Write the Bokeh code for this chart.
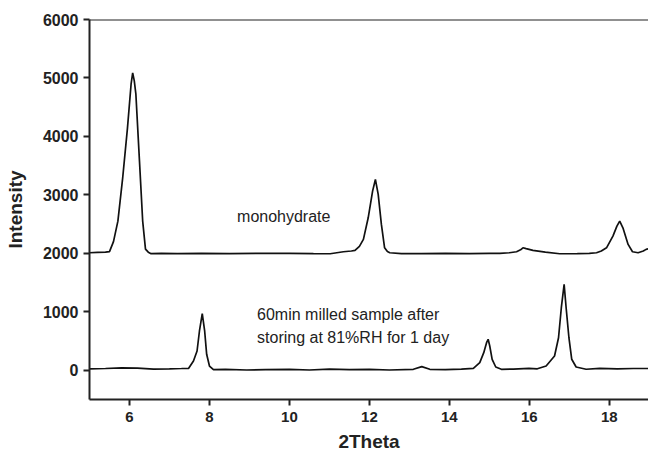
from bokeh.plotting import figure
from bokeh.models import Range1d, Span, Label, FixedTicker
from bokeh.embed import file_html
from bokeh.resources import INLINE

# Monohydrate pattern (offset by ~2000)
mono_x = [5.00, 5.20, 5.40, 5.50, 5.60, 5.71, 5.83, 5.95, 6.04, 6.08, 6.12, 6.16, 6.25, 6.33, 6.40, 6.47,
          6.54, 6.80, 7.20, 7.80, 8.50, 9.20, 10.0, 10.6, 11.02, 11.35, 11.55, 11.64, 11.75, 11.85, 11.97,
          12.08, 12.15, 12.22, 12.30, 12.38, 12.45, 12.51, 12.80, 13.3, 13.9, 14.5, 15.0, 15.26, 15.50,
          15.68, 15.78, 15.84, 15.92, 16.09, 16.40, 16.76, 17.20, 17.50, 17.68, 17.80, 17.93, 18.09, 18.19,
          18.26, 18.34, 18.47, 18.58, 18.72, 18.85, 18.92, 19.0]
mono_y = [2010, 2015, 2020, 2030, 2200, 2550, 3290, 4146, 4893, 5086, 4950, 4722, 3577, 2552, 2073, 2020,
          1995, 2000, 1995, 2000, 1995, 2000, 2000, 1995, 1993, 2027, 2040, 2051, 2120, 2239, 2608,
          3064, 3264, 3008, 2495, 2095, 2030, 2010, 1995, 1995, 2000, 1995, 2000, 2000, 2010,
          2027, 2060, 2095, 2080, 2051, 2020, 1993, 1995, 2000, 2010, 2040, 2095, 2295, 2466,
          2552, 2437, 2153, 2027, 2010, 2040, 2068, 2080]

# 60 min milled sample after storing at 81%RH for 1 day
milled_x = [5.00, 5.40, 5.80, 6.20, 6.60, 7.00, 7.30, 7.48, 7.60, 7.69, 7.75, 7.82, 7.88, 7.93, 8.00, 8.10,
            8.40, 8.93, 9.40, 10.0, 10.5, 11.0, 11.5, 12.0, 12.5, 13.10, 13.31, 13.51, 13.90, 14.30, 14.60,
            14.76, 14.86, 14.93, 14.97, 15.01, 15.07, 15.16, 15.30, 15.60, 15.99, 16.20, 16.42, 16.63, 16.73,
            16.80, 16.87, 16.92, 16.99, 17.06, 17.17, 17.42, 17.76, 18.20, 18.60, 19.0]
milled_y = [25, 30, 40, 35, 20, 25, 30, 34, 159, 330, 672, 967, 672, 273, 73, 10,
            15, 5, 10, 15, 5, 20, 10, 15, 5, 17, 62, 17, 10, 20, 34,
            130, 301, 472, 530, 415, 188, 56, 17, 20, 34, 25, 73, 244, 557,
            1070, 1470, 1070, 557, 188, 56, 17, 34, 25, 30, 30]

x_ticks = [6, 8, 10, 12, 14, 16, 18]
y_ticks = [0, 1000, 2000, 3000, 4000, 5000, 6000]

p = figure(width=648, height=454, output_backend="svg", toolbar_location=None,
           x_range=Range1d(5, 18.98), y_range=Range1d(-500, 6000),
           min_border_left=89, min_border_right=0, min_border_top=19, min_border_bottom=55)
p.outline_line_color = None
p.grid.grid_line_color = None
p.background_fill_color = "white"
p.border_fill_color = "white"

p.line(mono_x, mono_y, line_color="#111111", line_width=1.7)
p.line(milled_x, milled_y, line_color="#111111", line_width=1.7)

p.add_layout(Span(location=6000, dimension="width", line_color="#222222", line_width=2))

for ax in (p.xaxis[0], p.yaxis[0]):
    ax.axis_line_color = "#222222"
    ax.axis_line_width = 2
    ax.major_tick_line_color = "#222222"
    ax.major_tick_line_width = 2
    ax.major_tick_in = 0
    ax.major_tick_out = 6
    ax.minor_tick_line_color = None
    ax.major_label_text_font = "Liberation Sans"
    ax.major_label_text_font_style = "bold"
    ax.major_label_text_font_size = "16px"
    ax.major_label_text_color = "#222222"
    ax.axis_label_text_font = "Liberation Sans"
    ax.axis_label_text_font_style = "bold"
    ax.axis_label_text_font_size = "19px"
    ax.axis_label_text_color = "#222222"

p.xaxis.major_label_text_font_size = "15px"
p.xaxis.ticker = FixedTicker(ticks=x_ticks)
p.yaxis.ticker = FixedTicker(ticks=y_ticks)
p.xaxis.axis_label = "2Theta"
p.yaxis.axis_label = "Intensity"
p.xaxis.major_label_standoff = 6
p.yaxis.major_label_standoff = 5
p.yaxis.axis_label_standoff = 14
p.xaxis.axis_label_standoff = 6

lab_font = dict(text_font="Liberation Sans", text_font_size="16px", text_color="#222222")
p.add_layout(Label(x=8.69, y=2637, text="monohydrate", text_baseline="alphabetic", **lab_font))
p.add_layout(Label(x=9.19, y=957, text="60min milled sample after", text_baseline="alphabetic", **lab_font))
p.add_layout(Label(x=9.19, y=552, text="storing at 81%RH for 1 day", text_baseline="alphabetic", **lab_font))

open("out.html", "w").write(file_html(p, INLINE))
